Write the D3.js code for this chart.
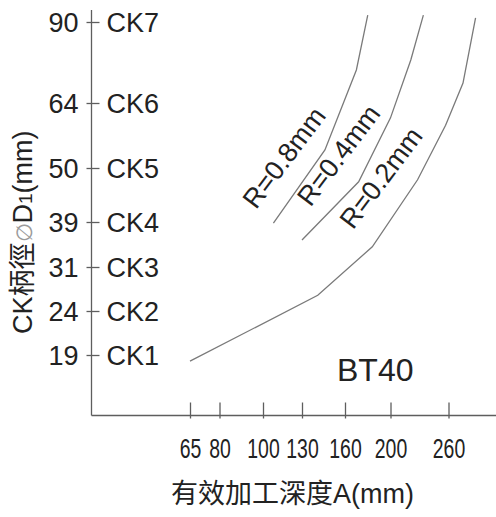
<!DOCTYPE html>
<meta charset="utf-8">
<style>
body { margin: 0; background: #fff; }
svg { font-family: "Liberation Sans", Arial, sans-serif; }
.axis line, .axisline, .ytick { stroke: #5e5e5e; stroke-width: 1.3; }
.axis path { display: none; }
.axis text { fill: #222; font-size: 27px; }
.curve { fill: none; stroke: #7a7a7a; stroke-width: 1.3; }
.lbl { fill: #222; font-size: 27px; }
.title { fill: #222; font-size: 27px; }
.cjk { font-family: "Noto Sans CJK TC", sans-serif; }
</style>
<body>
<script src="https://cdn.jsdelivr.net/npm/d3@7"></script>
<script>
// tick values (both axes are drawn on an uneven scale in the original)
var xTicks = [65, 80, 100, 130, 160, 200, 260];
var yTicks = [19, 24, 31, 39, 50, 64, 90];
var ckLabels = ["CK1", "CK2", "CK3", "CK4", "CK5", "CK6", "CK7"];

// curves: [depth A, shank diameter D1]
var r02 = [[65, 18.3], [141, 26.5], [184, 34.6], [228, 47.6], [257, 59.2], [275, 70.4], [288, 91.3]];
var r04 = [[130, 35.8], [172, 47.2], [200, 60.8], [221, 77.8], [234, 92.2]];
var r08 = [[108, 38.8], [146, 53.9], [170, 74.6], [180, 92.2]];

var curveNames = ["R=0.2mm", "R=0.4mm", "R=0.8mm"];
var labelPos = [[167, 37.5], [136, 41.9], [96.8, 41.4]];

var width = 496, height = 517;
var ox = 91.5, oy = 415.5;

var svg = d3.select("body").append("svg")
	.attr("width", width)
	.attr("height", height);

// piecewise scales, one segment per tick gap
var x = d3.scaleLinear().domain(xTicks).range([190, 219.5, 263, 302, 345, 390.5, 448.5]);
var y = d3.scaleLinear().domain(yTicks).range([355, 311, 267, 222, 168, 103, 22]);

// axis lines
svg.append("line").attr("class", "axisline")
	.attr("x1", ox).attr("x2", ox).attr("y1", 10).attr("y2", oy);
svg.append("line").attr("class", "axisline")
	.attr("x1", ox).attr("x2", width).attr("y1", oy).attr("y2", oy);

// y tick marks crossing the axis
svg.selectAll(".ytick").data(yTicks).enter().append("line")
	.attr("class", "ytick")
	.attr("x1", ox - 5).attr("x2", ox + 8)
	.attr("y1", function(d) { return y(d) + 0.5; })
	.attr("y2", function(d) { return y(d) + 0.5; });

// y axis: number on the left, CK size on the right
var gy = svg.append("g")
	.attr("class", "axis")
	.attr("transform", "translate(" + ox + ",0)")
	.call(d3.axisLeft(y).tickValues(yTicks).tickSize(0).tickSizeOuter(0).tickPadding(13));
gy.selectAll(".tick line").remove();
gy.selectAll(".tick text").attr("dy", "0.36em");
gy.selectAll(".tick").append("text")
	.attr("x", 15)
	.attr("dy", "0.36em")
	.attr("text-anchor", "start")
	.attr("fill", "#222")
	.text(function(d, i) { return ckLabels[i]; });

// x axis: ticks point upwards, labels condensed
var gx = svg.append("g")
	.attr("class", "axis xaxis")
	.attr("transform", "translate(0," + oy + ")")
	.call(d3.axisBottom(x).tickValues(xTicks).tickSize(3).tickSizeOuter(0).tickFormat(d3.format("d")));
gx.selectAll(".tick line").attr("y1", -13);
gx.selectAll(".tick text")
	.attr("y", 0).attr("dy", 0)
	.attr("transform", "translate(0,42) scale(0.72,1)");

var line = d3.line()
	.x(function(d) { return x(d[0]); })
	.y(function(d) { return y(d[1]); });

[r02, r04, r08].forEach(function(s) {
	svg.append("path").attr("class", "curve").attr("d", line(s));
});

labelPos.forEach(function(p, i) {
	svg.append("text")
		.attr("class", "lbl")
		.attr("transform", "translate(" + x(p[0]) + "," + y(p[1]) + ") rotate(-53)")
		.text(curveNames[i]);
});

svg.append("text")
	.attr("class", "lbl")
	.attr("x", x(130) + 35)
	.attr("y", y(19) + 26)
	.style("font-size", "32px")
	.text("BT40");

// axis titles
var xt = svg.append("text")
	.attr("class", "title")
	.attr("x", 171)
	.attr("y", 503);
xt.append("tspan").attr("class", "cjk").text("有效加工深度");
xt.append("tspan").text("A(mm)");

var yt = svg.append("text")
	.attr("class", "title")
	.attr("transform", "translate(32,334) rotate(-90)");
yt.append("tspan").text("CK");
yt.append("tspan").attr("class", "cjk").text("柄徑");
yt.append("tspan").attr("fill", "#9a9a9a").style("font-size", "22px").text("∅");
yt.append("tspan").text("D");
yt.append("tspan").style("font-size", "19px").text("1");
yt.append("tspan").text("(mm)");
</script>
